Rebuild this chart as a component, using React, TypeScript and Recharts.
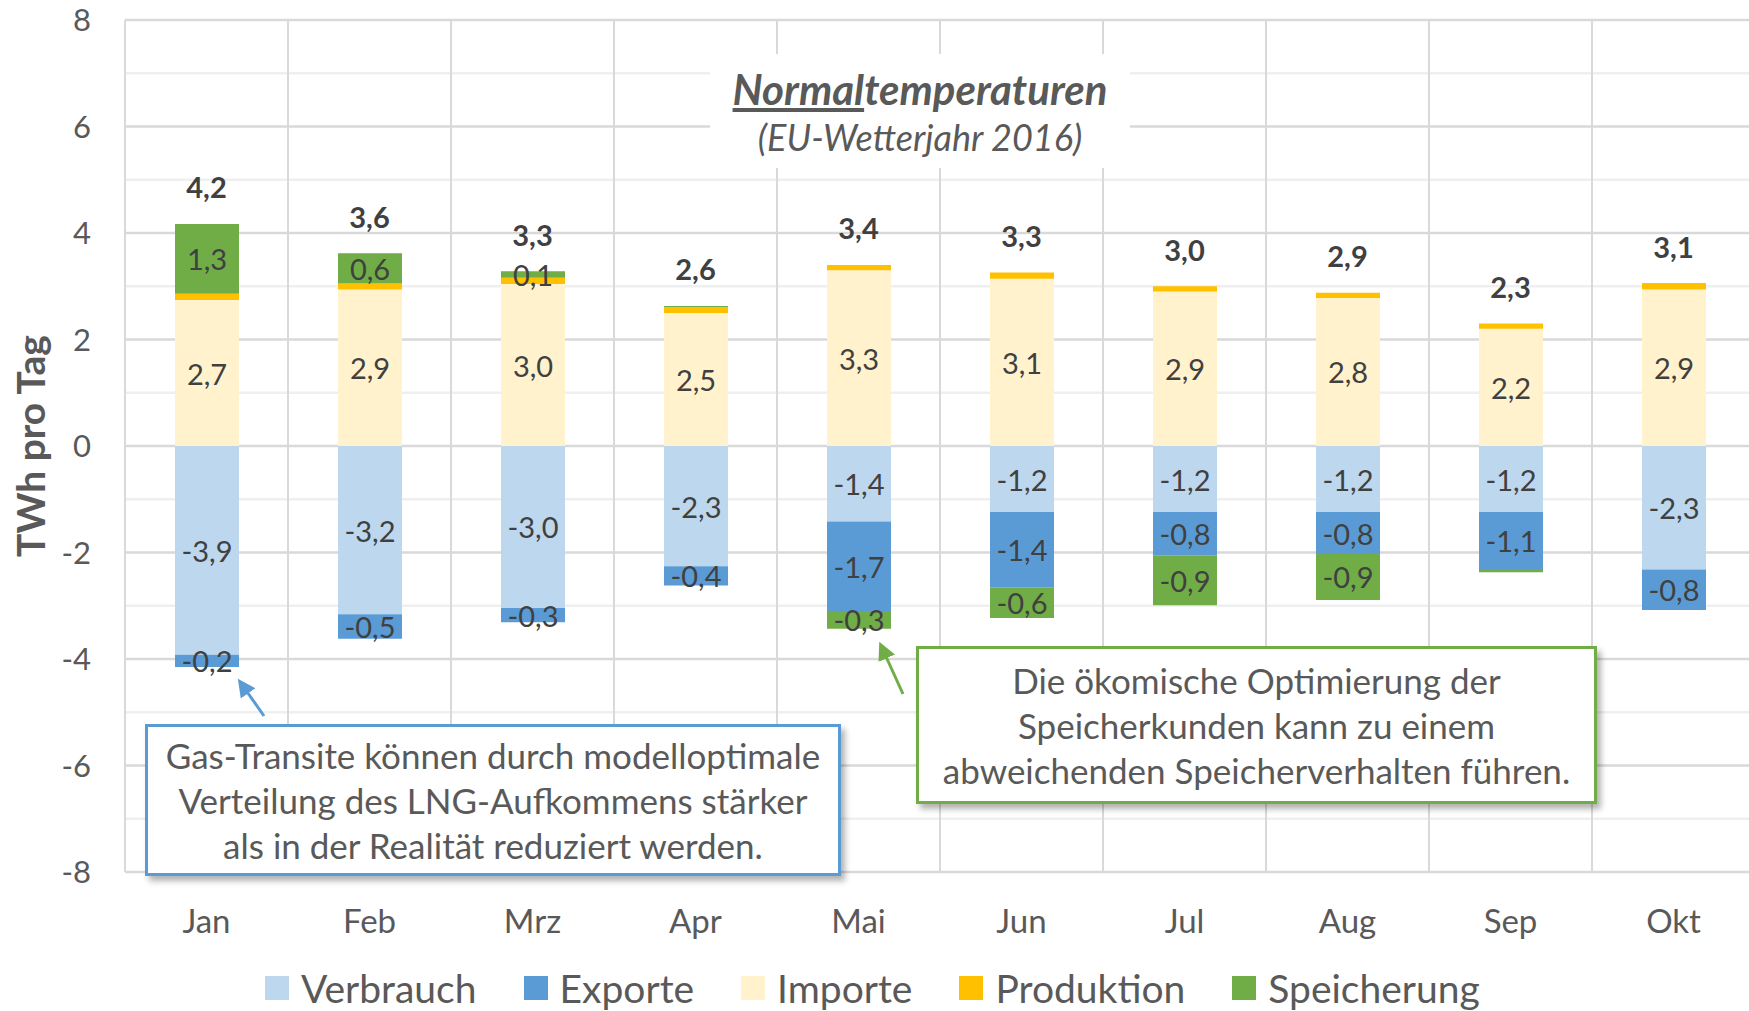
import React from 'react';
import {
  ComposedChart,
  Bar,
  Line,
  XAxis,
  YAxis,
  CartesianGrid,
  Legend,
  LabelList,
} from 'recharts';

// Monate und Werte (TWh pro Tag)
const months = ['Jan', 'Feb', 'Mrz', 'Apr', 'Mai', 'Jun', 'Jul', 'Aug', 'Sep', 'Okt'];
const verbrauch = [-3.92, -3.16, -3.04, -2.26, -1.42, -1.24, -1.24, -1.24, -1.24, -2.32];
const exporte = [-0.23, -0.46, -0.27, -0.36, -1.68, -1.42, -0.81, -0.79, -1.07, -0.76];
const importe = [2.74, 2.94, 3.04, 2.5, 3.3, 3.14, 2.9, 2.78, 2.2, 2.94];
const produktion = [0.12, 0.11, 0.12, 0.11, 0.1, 0.12, 0.1, 0.1, 0.1, 0.12];
const speicherung = [1.31, 0.57, 0.12, 0.02, -0.33, -0.57, -0.94, -0.86, -0.06, 0];

const yTicks = [-8, -6, -4, -2, 0, 2, 4, 6, 8];
const yMinorTicks = [-7, -5, -3, -1, 1, 3, 5, 7];

const series = [
  { key: 'Verbrauch', values: verbrauch, color: '#BDD7EE', labels: true },
  { key: 'Exporte', values: exporte, color: '#5B9BD5', labels: true },
  { key: 'Importe', values: importe, color: '#FFF2CC', labels: true },
  { key: 'Produktion', values: produktion, color: '#FFC000', labels: false },
  { key: 'Speicherung', values: speicherung, color: '#70AD47', labels: true },
];

const data = months.map((m, i) => {
  const row: any = { month: m };
  series.forEach((s) => (row[s.key] = s.values[i]));
  row.total = series.reduce((acc, s) => acc + Math.max(0, s.values[i]), 0);
  return row;
});

const fmt = (v: number) => v.toFixed(1).replace('.', ',');

const TEXT = '#595959';

const SegLabel = (props: any) => {
  const { x, y, width, height, value } = props;
  if (value == null || Math.abs(value) < 0.095) return null;
  return (
    <text
      x={Number(x) + Number(width) / 2}
      y={Number(y) + Number(height) / 2}
      textAnchor="middle"
      dominantBaseline="central"
      fill="#404040"
      fontSize={29}
    >
      {fmt(value)}
    </text>
  );
};

const TotalLabel = (props: any) => {
  const { x, y, value } = props;
  return (
    <text
      x={x}
      y={Number(y) - 37}
      textAnchor="middle"
      dominantBaseline="central"
      fill="#404040"
      fontSize={29}
      fontWeight="bold"
    >
      {fmt(value)}
    </text>
  );
};

const YLabel = (props: any) => {
  const vb = props.viewBox || {};
  const cx = 30;
  const cy = (vb.y || 0) + (vb.height || 0) / 2;
  return (
    <text
      x={cx}
      y={cy}
      transform={`rotate(-90 ${cx} ${cy})`}
      textAnchor="middle"
      dominantBaseline="central"
      fill={TEXT}
      fontSize={39}
      fontWeight="bold"
    >
      TWh pro Tag
    </text>
  );
};

const renderLegend = () => (
  <div style={{ display: 'flex', alignItems: 'center', height: 40, paddingLeft: 265, gap: 47 }}>
    {series.map((s) => (
      <div key={s.key} style={{ display: 'flex', alignItems: 'center' }}>
        <span style={{ display: 'inline-block', width: 24, height: 24, background: s.color, marginRight: 12 }} />
        <span style={{ fontSize: 39, color: TEXT, lineHeight: '40px' }}>{s.key}</span>
      </div>
    ))}
  </div>
);

const boxStyle = (color: string, left: number, top: number, width: number, height: number): React.CSSProperties => ({
  position: 'absolute',
  left,
  top,
  width,
  height,
  boxSizing: 'border-box',
  border: `3px solid ${color}`,
  background: '#fff',
  boxShadow: '4px 5px 6px rgba(0,0,0,0.3)',
  display: 'flex',
  alignItems: 'center',
  justifyContent: 'center',
  textAlign: 'center',
  color: TEXT,
  fontSize: 35,
  lineHeight: '45px',
  whiteSpace: 'nowrap',
});

export default function App() {
  return (
    <div
      style={{
        position: 'fixed',
        left: 0,
        top: 0,
        width: 1749,
        height: 1011,
        overflow: 'hidden',
        background: '#fff',
        fontFamily: 'Lato, sans-serif',
      }}
    >
      <ComposedChart
        width={1790}
        height={1011}
        data={data}
        stackOffset="sign"
        barSize={64}
        margin={{ top: 20, right: 35, left: 0, bottom: 0 }}
      >
        <CartesianGrid vertical={false} horizontalValues={yMinorTicks} stroke="#EFEFEF" strokeWidth={2.5} />
        <CartesianGrid vertical={false} stroke="#D9D9D9" strokeWidth={2.5} />
        <CartesianGrid
          horizontal={false}
          stroke="#D9D9D9"
          strokeWidth={2}
          verticalCoordinatesGenerator={({ offset }: any) =>
            months.concat(['']).map((_, i) => offset.left + (i * offset.width) / months.length)
          }
        />
        <XAxis
          dataKey="month"
          tickLine={false}
          axisLine={false}
          height={99}
          tickMargin={32}
          interval={0}
          tick={{ fill: TEXT, fontSize: 33 }}
        />
        <YAxis
          width={125}
          domain={[-8, 8]}
          ticks={yTicks}
          interval={0}
          tickLine={false}
          axisLine={false}
          tickMargin={28}
          tick={{ fill: TEXT, fontSize: 31 }}
          label={<YLabel />}
        />
        {series.map((s) => (
          <Bar key={s.key} dataKey={s.key} stackId="a" fill={s.color} isAnimationActive={false}>
            {s.labels && <LabelList dataKey={s.key} content={SegLabel} />}
          </Bar>
        ))}
        <Line
          dataKey="total"
          stroke="none"
          dot={false}
          activeDot={false}
          legendType="none"
          isAnimationActive={false}
          label={TotalLabel}
        />
        <Legend
          verticalAlign="bottom"
          content={renderLegend}
          wrapperStyle={{ left: 0, bottom: 3, width: 1790, height: 40 }}
        />
      </ComposedChart>

      {/* Titel */}
      <div
        style={{
          position: 'absolute',
          left: 710,
          top: 54,
          width: 420,
          height: 114,
          background: '#fff',
          textAlign: 'center',
          color: TEXT,
          fontStyle: 'italic',
          whiteSpace: 'nowrap',
        }}
      >
        <div style={{ fontSize: 42, fontWeight: 'bold', lineHeight: '50px', marginTop: 10 }}>
          <span style={{ textDecoration: 'underline' }}>Normal</span>temperaturen
        </div>
        <div style={{ fontSize: 36, lineHeight: '46px' }}>(EU-Wetterjahr 2016)</div>
      </div>

      {/* Hinweise */}
      <div style={boxStyle('#5B9BD5', 145, 724, 696, 152)}>
        <div>
          Gas-Transite können durch modelloptimale
          <br />
          Verteilung des LNG-Aufkommens stärker
          <br />
          als in der Realität reduziert werden.
        </div>
      </div>
      <div style={boxStyle('#70AD47', 916, 646, 681, 158)}>
        <div>
          Die ökomische Optimierung der
          <br />
          Speicherkunden kann zu einem
          <br />
          abweichenden Speicherverhalten führen.
        </div>
      </div>

      <svg width={1749} height={1011} style={{ position: 'absolute', left: 0, top: 0, pointerEvents: 'none' }}>
        <defs>
          <marker id="headBlue" markerWidth="6" markerHeight="6" refX="3" refY="3" orient="auto">
            <path d="M0,0 L6,3 L0,6 z" fill="#5B9BD5" />
          </marker>
          <marker id="headGreen" markerWidth="6" markerHeight="6" refX="3" refY="3" orient="auto">
            <path d="M0,0 L6,3 L0,6 z" fill="#70AD47" />
          </marker>
        </defs>
        <line x1={264} y1={716} x2={243} y2={686} stroke="#5B9BD5" strokeWidth={3} markerEnd="url(#headBlue)" />
        <line x1={903} y1={694} x2={883} y2={650} stroke="#70AD47" strokeWidth={3} markerEnd="url(#headGreen)" />
      </svg>
    </div>
  );
}
